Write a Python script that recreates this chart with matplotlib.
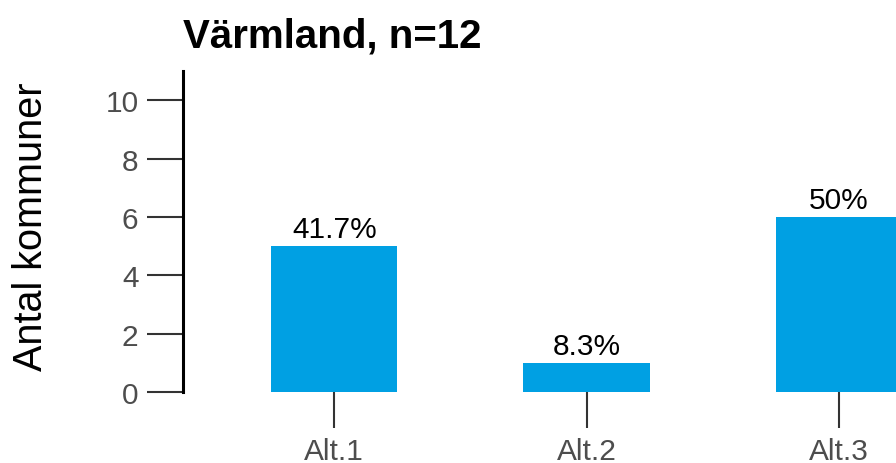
import matplotlib
matplotlib.use("Agg")
import matplotlib.pyplot as plt

plt.rcParams["font.family"] = ["Liberation Sans", "DejaVu Sans"]

# antal kommuner per alternativ
categories = ["Alt.1", "Alt.2", "Alt.3"]
counts = [5, 1, 6]
n_total = 12
region = "Värmland"

bar_color = "#00A0E3"
tick_color = "#333333"
label_color = "#4D4D4D"

fig = plt.figure(figsize=(8.96, 4.64), dpi=100)
ax = fig.add_axes([183 / 896, 71 / 464, 807 / 896, 321 / 464])

x = list(range(len(categories)))
ax.bar(x, counts, width=0.5, color=bar_color, zorder=2)

for xi, c in zip(x, counts):
    pct = round(100 * c / n_total, 1)
    txt = f"{pct:g}%"
    ax.annotate(txt, (xi, c), xytext=(0, 2), textcoords="offset points",
                ha="center", va="bottom", fontsize=21.5, color="black")

ax.set_xlim(-0.6, 2.6)
ax.set_ylim(0, 11)
ax.set_xticks(x)
ax.set_xticklabels(categories)
ax.set_yticks([0, 2, 4, 6, 8, 10])

for side in ["top", "right", "bottom"]:
    ax.spines[side].set_visible(False)
ax.spines["left"].set_linewidth(2.2)
ax.spines["left"].set_color("black")

ax.tick_params(axis="both", length=26, width=1.5, color=tick_color,
               labelcolor=label_color, labelsize=21.5)
ax.tick_params(axis="y", pad=6)
ax.tick_params(axis="x", pad=6.5)

ax.set_title(f"{region}, n={n_total}", loc="left", fontsize=29,
             fontweight="bold", pad=18)
fig.text(31 / 896, 237 / 464, "Antal kommuner", rotation=90,
         ha="center", va="center", fontsize=28.5)

fig.savefig("out.png", dpi=100)
